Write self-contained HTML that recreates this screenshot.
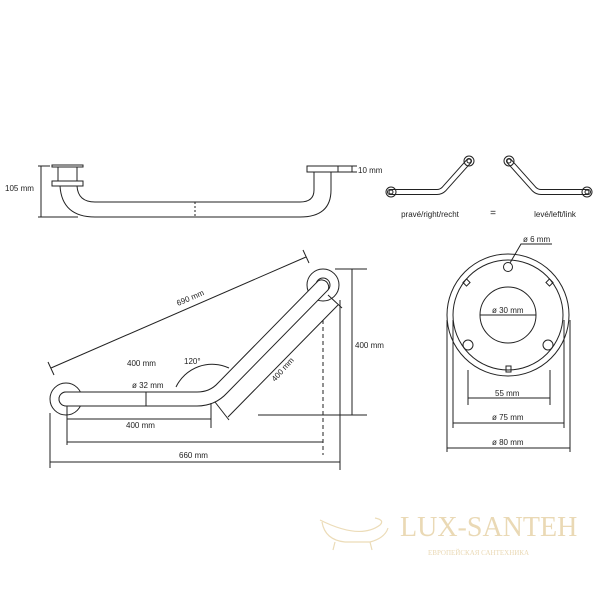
<!DOCTYPE html>
<html><head><style>body{margin:0;background:#fff}svg{display:block}text{font-family:"Liberation Sans",sans-serif;fill:#222}</style></head><body>
<svg width="600" height="600" viewBox="0 0 600 600" xmlns="http://www.w3.org/2000/svg">
<g fill="none" stroke="#222" stroke-width="1">
<!-- top view -->
<rect x="52" y="165" width="31" height="2"/>
<rect x="58" y="167" width="19" height="14"/>
<rect x="52" y="181" width="31" height="5"/>
<rect x="307" y="166" width="31" height="6"/>
<path d="M60 186 Q62 217 95 217 L300 217 Q331 217 331 190 L331 172"/>
<path d="M77 186 Q78 202 95 202 L300 202 Q314 202 314 190 L314 172"/>
<line x1="195" y1="202" x2="195" y2="217" stroke-dasharray="2,2"/>
<line x1="41" y1="166" x2="41" y2="217"/><line x1="38" y1="166" x2="50" y2="166"/><line x1="38" y1="217" x2="78" y2="217"/>
<line x1="352" y1="166" x2="352" y2="172"/><line x1="338" y1="166" x2="357" y2="166"/><line x1="338" y1="172" x2="357" y2="172"/>
<!-- icons -->
<path d="M390 192 L437 192 Q441 192 444 189 L469 161" stroke-width="6" stroke="#222" stroke-linecap="round"/>
<path d="M390 192 L437 192 Q441 192 444 189 L469 161" stroke-width="4" stroke="#fff" stroke-linecap="round"/>
<path d="M509 161 L534 189 Q537 192 541 192 L588 192" stroke-width="6" stroke="#222" stroke-linecap="round"/>
<path d="M509 161 L534 189 Q537 192 541 192 L588 192" stroke-width="4" stroke="#fff" stroke-linecap="round"/>
<circle cx="391" cy="192" r="5"/><circle cx="391" cy="192" r="2"/>
<circle cx="469" cy="161" r="5"/><circle cx="469" cy="161" r="2"/>
<circle cx="509" cy="161" r="5"/><circle cx="509" cy="161" r="2"/>
<circle cx="587" cy="192" r="5"/><circle cx="587" cy="192" r="2"/>
<!-- main -->
<circle cx="66" cy="399" r="16"/><circle cx="66" cy="399" r="7"/>
<circle cx="323" cy="285" r="16"/><circle cx="323" cy="285" r="7"/>
<path fill="#fff" d="M66 392 L197 392 Q210 392 218 383 L318 281 A7 7 0 0 1 328 290 L227 393 Q215 406 197 406 L66 406 A7 7 0 0 1 66 392 Z"/>
<line x1="51" y1="368" x2="306" y2="257"/><line x1="48" y1="362" x2="54" y2="375"/><line x1="303" y1="250" x2="309" y2="263"/>
<path d="M176 387 A 40 40 0 0 1 229 368"/>
<line x1="146" y1="392" x2="146" y2="406"/>
<line x1="67" y1="419" x2="211" y2="419"/><line x1="211" y1="403" x2="211" y2="428"/><line x1="67" y1="406" x2="67" y2="445"/>
<line x1="67" y1="442" x2="323" y2="442"/>
<line x1="323" y1="320" x2="323" y2="455" stroke-dasharray="4,3"/>
<line x1="50" y1="462" x2="340" y2="462"/><line x1="50" y1="413" x2="50" y2="468"/><line x1="340" y1="300" x2="340" y2="470"/>
<line x1="352" y1="269" x2="352" y2="415"/><line x1="335" y1="269" x2="367" y2="269"/><line x1="258" y1="415" x2="367" y2="415"/>
<line x1="228" y1="417" x2="338" y2="305"/><line x1="215" y1="402" x2="229" y2="420"/><line x1="328" y1="295" x2="342" y2="308"/>
<!-- rosette -->
<circle cx="508" cy="315" r="61"/><circle cx="508" cy="315" r="55"/>
<circle cx="508" cy="315" r="28"/>
<circle cx="468" cy="345" r="5"/><circle cx="548" cy="345" r="5"/><circle cx="508" cy="267" r="4.5"/>
<rect x="464" y="280" width="5" height="5" transform="rotate(45 466.5 282.5)"/>
<rect x="547" y="280" width="5" height="5" transform="rotate(45 549.5 282.5)"/>
<rect x="506" y="366" width="5" height="6"/>
<path d="M510 263 L521 244 L552 244"/>
<line x1="480" y1="315" x2="536" y2="315"/>
<line x1="468" y1="398" x2="550" y2="398"/><line x1="468" y1="370" x2="468" y2="405"/><line x1="550" y1="370" x2="550" y2="405"/>
<line x1="453" y1="423" x2="564" y2="423"/><line x1="453" y1="320" x2="453" y2="428"/><line x1="564" y1="320" x2="564" y2="428"/>
<line x1="447" y1="448" x2="570" y2="448"/><line x1="447" y1="320" x2="447" y2="452"/><line x1="570" y1="320" x2="570" y2="452"/>
</g>
<g font-size="8">
<text x="5" y="191">105 mm</text>
<text x="358" y="173">10 mm</text>
<text x="430" y="217" text-anchor="middle">pravé/right/recht</text>
<text x="493" y="216" text-anchor="middle" font-size="10">=</text>
<text x="555" y="217" text-anchor="middle">levé/left/link</text>
<text x="178" y="306" transform="rotate(-23 178 306)">690 mm</text>
<text x="127" y="366">400 mm</text>
<text x="184" y="364">120°</text>
<text x="132" y="388">ø 32 mm</text>
<text x="126" y="428">400 mm</text>
<text x="179" y="458">660 mm</text>
<text x="355" y="348">400 mm</text>
<text x="275" y="382" transform="rotate(-48 275 382)">400 mm</text>
<text x="523" y="242">ø 6 mm</text>
<text x="492" y="313">ø 30 mm</text>
<text x="495" y="396">55 mm</text>
<text x="492" y="420">ø 75 mm</text>
<text x="492" y="445">ø 80 mm</text>
</g>
<g fill="none" stroke="#ecdcb8" stroke-width="1.2">
<path d="M320 520 Q360 540 380 525 Q385 520 375 518 M322 522 Q325 540 345 542 L370 542 Q385 538 388 528 M335 542 L333 550 M370 542 L372 550"/>
</g>
<text x="400" y="536" style="font-family:'Liberation Serif',serif;font-size:28px;fill:#ead9b5">LUX-SANTEH</text>
<text x="428" y="555" style="font-family:'Liberation Serif',serif;font-size:7px;fill:#ead9b5">ЕВРОПЕЙСКАЯ САНТЕХНИКА</text>
</svg>
</body></html>
